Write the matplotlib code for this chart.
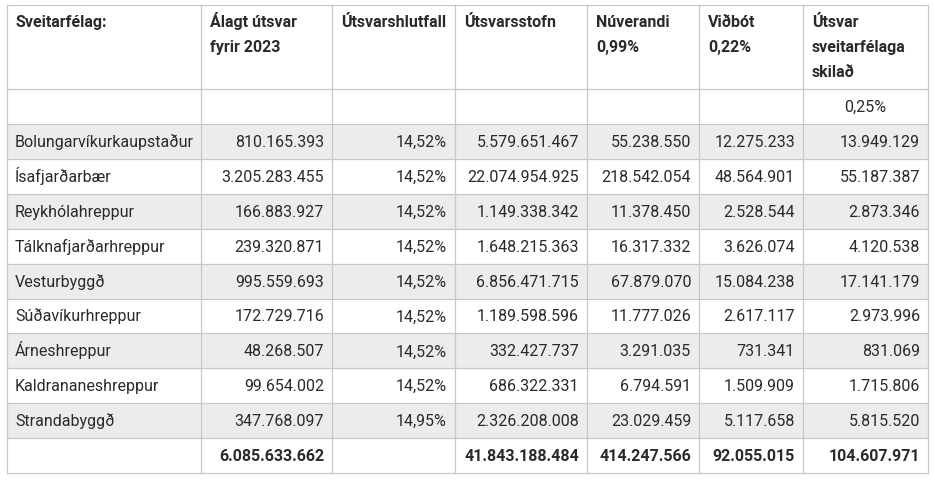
import matplotlib.pyplot as plt
from matplotlib.patches import Rectangle

plt.rcParams['font.family'] = ['Roboto', 'DejaVu Sans']

# table content
headers = [
    ["Sveitarfélag:"],
    ["Álagt útsvar", "fyrir 2023"],
    ["Útsvarshlutfall"],
    ["Útsvarsstofn"],
    ["Núverandi", "0,99%"],
    ["Viðbót", "0,22%"],
    ["Útsvar", "sveitarfélaga", "skilað"],
]
sub_row = ["", "", "", "", "", "", "0,25%"]

names = ["Bolungarvíkurkaupstaður", "Ísafjarðarbær", "Reykhólahreppur",
         "Tálknafjarðarhreppur", "Vesturbyggð", "Súðavíkurhreppur",
         "Árneshreppur", "Kaldrananeshreppur", "Strandabyggð"]
alagt = ["810.165.393", "3.205.283.455", "166.883.927", "239.320.871",
         "995.559.693", "172.729.716", "48.268.507", "99.654.002", "347.768.097"]
hlutfall = ["14,52%", "14,52%", "14,52%", "14,52%", "14,52%", "14,52%",
            "14,52%", "14,52%", "14,95%"]
stofn = ["5.579.651.467", "22.074.954.925", "1.149.338.342", "1.648.215.363",
         "6.856.471.715", "1.189.598.596", "332.427.737", "686.322.331",
         "2.326.208.008"]
nuverandi = ["55.238.550", "218.542.054", "11.378.450", "16.317.332",
             "67.879.070", "11.777.026", "3.291.035", "6.794.591", "23.029.459"]
vidbot = ["12.275.233", "48.564.901", "2.528.544", "3.626.074", "15.084.238",
          "2.617.117", "731.341", "1.509.909", "5.117.658"]
skilad = ["13.949.129", "55.187.387", "2.873.346", "4.120.538", "17.141.179",
          "2.973.996", "831.069", "1.715.806", "5.815.520"]
totals = ["", "6.085.633.662", "", "41.843.188.484", "414.247.566",
          "92.055.015", "104.607.971"]

# layout in pixels
col_x = [7, 201, 332, 455, 587, 699, 803, 928]
header_top, header_bot, sub_bot = 5, 89, 124
row_h = 34.9
line_col = "#c8c8c8"
txt_col = "#2a2a2a"
shade = "#ececec"
fs = 11.5

fig = plt.figure(figsize=(9.35, 4.83), dpi=100)
ax = fig.add_axes([0, 0, 1, 1])
ax.set_xlim(0, 935)
ax.set_ylim(483, 0)
ax.axis("off")

rows = list(zip(names, alagt, hlutfall, stofn, nuverandi, vidbot, skilad))
n = len(rows)
row_tops = [sub_bot + i * row_h for i in range(n + 1)]
table_bot = sub_bot + (n + 1) * row_h

# shaded rows
for i in range(0, n, 2):
    ax.add_patch(Rectangle((col_x[0], row_tops[i]), col_x[-1] - col_x[0], row_h,
                           facecolor=shade, edgecolor="none", zorder=0))

# grid lines
for y in [header_top, header_bot, sub_bot] + row_tops[1:] + [table_bot]:
    ax.plot([col_x[0], col_x[-1]], [y, y], color=line_col, lw=0.9, zorder=1)
for x in col_x:
    ax.plot([x, x], [header_top, table_bot], color=line_col, lw=0.9, zorder=1)

# header
for j, lines in enumerate(headers):
    for k, s in enumerate(lines):
        ax.text(col_x[j] + 9, 27 + k * 25, s, ha="left", va="baseline",
                fontsize=fs, fontweight="bold", color=txt_col)

# sub row
for j, s in enumerate(sub_row):
    if s:
        ax.text((col_x[j] + col_x[j + 1]) / 2, header_bot + 35 / 2 + 5, s,
                ha="center", va="baseline", fontsize=fs, color=txt_col)

# body
def cell(j, y, s, bold=False):
    if j == 0:
        ax.text(col_x[0] + 8, y, s, ha="left", va="baseline", fontsize=fs,
                color=txt_col, fontweight="bold" if bold else "normal")
    else:
        ax.text(col_x[j + 1] - 8, y, s, ha="right", va="baseline", fontsize=fs,
                color=txt_col, fontweight="bold" if bold else "normal")

for i, r in enumerate(rows):
    yb = row_tops[i] + row_h / 2 + 5.5
    for j, s in enumerate(r):
        cell(j, yb, s)

yb = row_tops[n] + row_h / 2 + 5.5
for j, s in enumerate(totals):
    if s:
        cell(j, yb, s, bold=True)

fig.savefig("out.png", dpi=100, facecolor="white")
